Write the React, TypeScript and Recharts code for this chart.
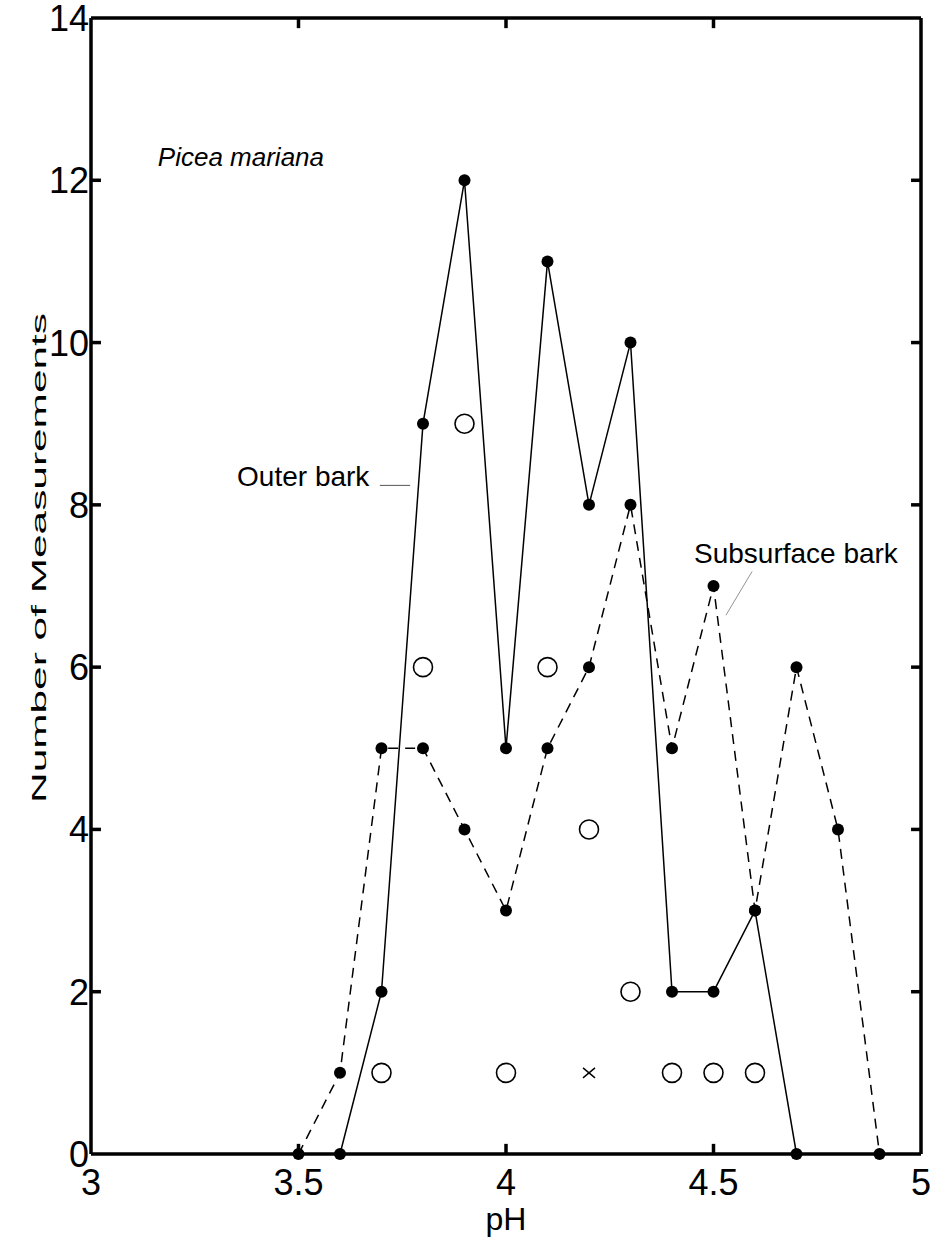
import React from 'react';
import {
  ComposedChart,
  Line,
  Scatter,
  XAxis,
  YAxis,
  ReferenceLine,
  ReferenceDot,
  Label,
} from 'recharts';

// pH classes and counts
const outerPh = [3.6, 3.7, 3.8, 3.9, 4.0, 4.1, 4.2, 4.3, 4.4, 4.5, 4.6, 4.7];
const outerCounts = [0, 2, 9, 12, 5, 11, 8, 10, 2, 2, 3, 0];

const subPh = [3.5, 3.6, 3.7, 3.8, 3.9, 4.0, 4.1, 4.2, 4.3, 4.4, 4.5, 4.6, 4.7, 4.8, 4.9];
const subCounts = [0, 1, 5, 5, 4, 3, 5, 6, 8, 5, 7, 3, 6, 4, 0];

const openPh = [3.7, 3.8, 3.9, 4.0, 4.1, 4.2, 4.3, 4.4, 4.5, 4.6];
const openCounts = [1, 6, 9, 1, 6, 4, 2, 1, 1, 1];

const crossPh = [4.2];
const crossCounts = [1];

const xTicks = [3, 3.5, 4, 4.5, 5];
const yTicks = [0, 2, 4, 6, 8, 10, 12, 14];

const FONT = '"Liberation Sans", Arial, Helvetica, sans-serif';

const toRows = (ph: number[], n: number[]) => ph.map((p, i) => ({ ph: p, count: n[i] }));

const outerData = toRows(outerPh, outerCounts);
const subData = toRows(subPh, subCounts);
const openData = toRows(openPh, openCounts);
const crossData = toRows(crossPh, crossCounts);

// inward tick length, ~10px, in data units
const TX = 0.024; // along pH
const TY = 0.125; // along count

const BottomTick = (props: any) => {
  const { x, y, payload } = props;
  return (
    <text x={x} y={y + 41} textAnchor="middle" fontSize={36} fontFamily={FONT} fill="#000">
      {payload.value}
    </text>
  );
};

const LeftTick = (props: any) => {
  const { x, y, payload } = props;
  return (
    <text x={x - 2} y={y + 13} textAnchor="end" fontSize={36} fontFamily={FONT} fill="#000">
      {payload.value}
    </text>
  );
};

const OpenCircle = (props: any) => (
  <circle cx={props.cx} cy={props.cy} r={9.5} fill="#fff" stroke="#000" strokeWidth={1.6} />
);

const Cross = (props: any) => (
  <g stroke="#000" strokeWidth={1.4}>
    <line x1={props.cx - 6} x2={props.cx + 6} y1={props.cy - 5} y2={props.cy + 5} />
    <line x1={props.cx - 6} x2={props.cx + 6} y1={props.cy + 5} y2={props.cy - 5} />
  </g>
);

const note = (text: string, size: number, italic = false) => (p: any) => (
  <text
    x={p.cx}
    y={p.cy}
    fontSize={size}
    fontStyle={italic ? 'italic' : 'normal'}
    fontFamily={FONT}
    fill="#000"
  >
    {text}
  </text>
);

const YLabel = (props: any) => {
  const { viewBox } = props;
  const cx = viewBox.x - 52;
  const cy = viewBox.y + viewBox.height / 2 - 28;
  return (
    <text
      transform={`translate(${cx}, ${cy}) rotate(-90)`}
      textAnchor="middle"
      dominantBaseline="central"
      fontSize={21}
      textLength={490}
      lengthAdjust="spacingAndGlyphs"
      fontFamily={FONT}
      fill="#000"
    >
      Number of Measurements
    </text>
  );
};

const XLabel = (props: any) => {
  const { viewBox } = props;
  return (
    <text
      x={viewBox.x + viewBox.width / 2}
      y={viewBox.y + 76}
      textAnchor="middle"
      fontSize={32}
      fontFamily={FONT}
      fill="#000"
    >
      pH
    </text>
  );
};

const innerX = xTicks.slice(1, -1);
const innerY = yTicks.slice(1, -1);

export default function App() {
  return (
    <div style={{ position: 'absolute', left: 0, top: 0, background: '#fff' }}>
      <ComposedChart
        width={934}
        height={1241}
        margin={{ top: 17, right: 12, bottom: 86, left: 90 }}
      >
        <XAxis
          xAxisId="b"
          type="number"
          dataKey="ph"
          domain={[3, 5]}
          ticks={xTicks}
          height={1}
          tickSize={0}
          tickMargin={0}
          tickLine={false}
          tick={<BottomTick />}
          axisLine={{ stroke: '#000', strokeWidth: 3.5 }}
        >
          <Label content={<XLabel />} />
        </XAxis>
        <XAxis
          xAxisId="t"
          orientation="top"
          type="number"
          dataKey="ph"
          domain={[3, 5]}
          ticks={xTicks}
          height={1}
          tick={false}
          tickLine={false}
          axisLine={{ stroke: '#000', strokeWidth: 3.5 }}
        />
        <YAxis
          yAxisId="l"
          type="number"
          domain={[0, 14]}
          ticks={yTicks}
          width={1}
          tickSize={0}
          tickMargin={0}
          tickLine={false}
          tick={<LeftTick />}
          axisLine={{ stroke: '#000', strokeWidth: 3.5 }}
        >
          <Label content={<YLabel />} />
        </YAxis>
        <YAxis
          yAxisId="r"
          orientation="right"
          type="number"
          domain={[0, 14]}
          ticks={yTicks}
          width={1}
          tick={false}
          tickLine={false}
          axisLine={{ stroke: '#000', strokeWidth: 3.5 }}
        />

        {/* inward tick marks on all four sides */}
        {innerX.map((v) => (
          <ReferenceLine
            key={`b${v}`}
            xAxisId="b"
            yAxisId="l"
            segment={[{ x: v, y: 0 }, { x: v, y: TY }]}
            stroke="#000"
            strokeWidth={3.5}
          />
        ))}
        {innerX.map((v) => (
          <ReferenceLine
            key={`t${v}`}
            xAxisId="b"
            yAxisId="l"
            segment={[{ x: v, y: 14 }, { x: v, y: 14 - TY }]}
            stroke="#000"
            strokeWidth={3.5}
          />
        ))}
        {innerY.map((v) => (
          <ReferenceLine
            key={`l${v}`}
            xAxisId="b"
            yAxisId="l"
            segment={[{ x: 3, y: v }, { x: 3 + TX, y: v }]}
            stroke="#000"
            strokeWidth={3.5}
          />
        ))}
        {innerY.map((v) => (
          <ReferenceLine
            key={`r${v}`}
            xAxisId="b"
            yAxisId="l"
            segment={[{ x: 5, y: v }, { x: 5 - TX, y: v }]}
            stroke="#000"
            strokeWidth={3.5}
          />
        ))}

        {/* Subsurface bark: dashed */}
        <Line
          xAxisId="b"
          yAxisId="l"
          data={subData}
          dataKey="count"
          type="linear"
          stroke="#000"
          strokeWidth={1.5}
          strokeDasharray="10 7"
          dot={{ r: 6, fill: '#000', stroke: '#000', strokeWidth: 0 }}
          isAnimationActive={false}
        />
        {/* Outer bark: solid */}
        <Line
          xAxisId="b"
          yAxisId="l"
          data={outerData}
          dataKey="count"
          type="linear"
          stroke="#000"
          strokeWidth={1.5}
          dot={{ r: 6, fill: '#000', stroke: '#000', strokeWidth: 0 }}
          isAnimationActive={false}
        />
        <Scatter
          xAxisId="b"
          yAxisId="l"
          data={openData}
          dataKey="count"
          shape={<OpenCircle />}
          isAnimationActive={false}
        />
        <Scatter
          xAxisId="b"
          yAxisId="l"
          data={crossData}
          dataKey="count"
          shape={<Cross />}
          isAnimationActive={false}
        />

        {/* annotations */}
        <ReferenceDot xAxisId="b" yAxisId="l" x={3.161} y={12.17} r={0} shape={note('Picea mariana', 26, true)} />
        <ReferenceDot xAxisId="b" yAxisId="l" x={3.352} y={8.23} r={0} shape={note('Outer bark', 28)} />
        <ReferenceDot xAxisId="b" yAxisId="l" x={4.453} y={7.28} r={0} shape={note('Subsurface bark', 28)} />
        <ReferenceLine
          xAxisId="b"
          yAxisId="l"
          segment={[{ x: 3.696, y: 8.24 }, { x: 3.769, y: 8.24 }]}
          stroke="#555"
          strokeWidth={1}
        />
        <ReferenceLine
          xAxisId="b"
          yAxisId="l"
          segment={[{ x: 4.593, y: 7.18 }, { x: 4.53, y: 6.64 }]}
          stroke="#777"
          strokeWidth={0.8}
        />
      </ComposedChart>
    </div>
  );
}
